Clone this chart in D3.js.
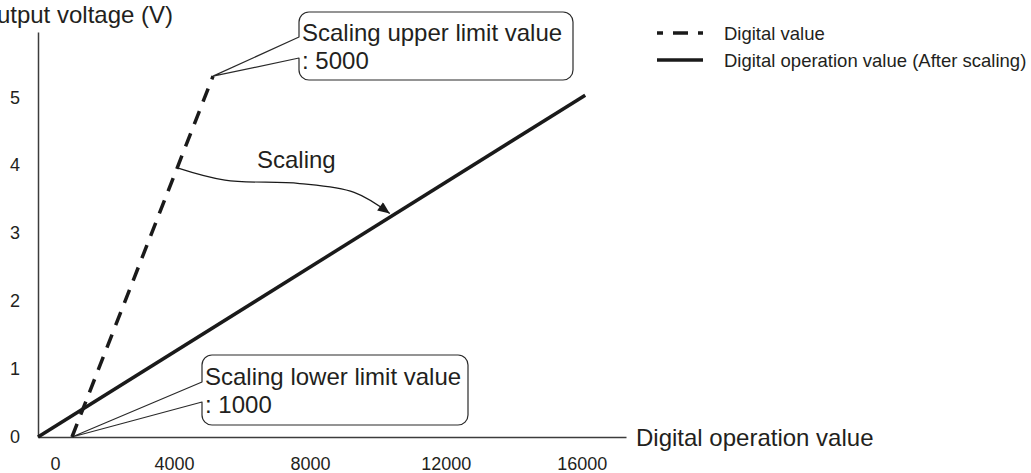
<!DOCTYPE html>
<html>
<head>
<meta charset="utf-8">
<script src="https://cdn.jsdelivr.net/npm/d3@7"></script>
<style>
  body { margin: 0; background: #fff; }
  svg { display: block; font-family: Arial, "Liberation Sans", Helvetica, sans-serif; }
</style>
</head>
<body>
<svg id="canvas"></svg>
<script>
// values: digital value -> output voltage (V)
let xTicks = [0, 4000, 8000, 12000, 16000];
let yTicks = [0, 1, 2, 3, 4, 5];
let digitalValue = [[1000, 0], [5150, 5.31]];
let operationValue = [[0, 0], [16100, 5.03]];
let scalingArrow = [[4100, 3.96], [5500, 3.78], [7700, 3.73], [9300, 3.6], [10350, 3.29]];
let legendNames = ["Digital value", "Digital operation value (After scaling)"];
let upperLabel = ["Scaling upper limit value", ": 5000"];
let lowerLabel = ["Scaling lower limit value", ": 1000"];

let width = 1031;
let height = 473;
let plotLeft = 38;
let plotRight = 626;
let plotTop = 32;
let plotBottom = 437;
let ink = "#1a1a1a";
let axisInk = "#3c3c3c";

let canvas = d3.select("#canvas").attr("width", width).attr("height", height);

let xScale = d3.scaleLinear().domain([0, 17300]).range([plotLeft, plotRight]);
let yScale = d3.scaleLinear().domain([0, 5.96]).range([plotBottom, plotTop]);
let line = d3.line().x((d) => xScale(d[0])).y((d) => yScale(d[1]));

let defs = canvas.append("defs");
defs.append("marker")
  .attr("id", "arrow")
  .attr("viewBox", "0 0 12 10")
  .attr("refX", 12)
  .attr("refY", 5)
  .attr("markerWidth", 13)
  .attr("markerHeight", 10)
  .attr("markerUnits", "userSpaceOnUse")
  .attr("orient", "auto")
  .append("path")
  .attr("d", "M0,0L12,5L0,10z")
  .attr("fill", ink);

let drawAxes = () => {
  let xAxis = d3.axisBottom(xScale)
    .tickValues(xTicks)
    .tickFormat(d3.format("d"))
    .tickSize(0)
    .tickSizeOuter(0)
    .tickPadding(20);
  let yAxis = d3.axisLeft(yScale)
    .tickValues(yTicks)
    .tickFormat(d3.format("d"))
    .tickSize(0)
    .tickSizeOuter(0)
    .tickPadding(18);

  let gx = canvas.append("g")
    .attr("transform", "translate(0, " + plotBottom + ")")
    .call(xAxis)
    .attr("font-family", null)
    .attr("font-size", 18);
  gx.select(".domain").attr("stroke", axisInk).attr("stroke-width", 1.5);
  gx.selectAll("text").attr("fill", "#231f20");
  gx.selectAll(".tick").filter((d) => d === 0).select("text").attr("dx", 17);

  let gy = canvas.append("g")
    .attr("transform", "translate(" + plotLeft + ", 0)")
    .call(yAxis)
    .attr("font-family", null)
    .attr("font-size", 18);
  gy.select(".domain").attr("stroke", axisInk).attr("stroke-width", 1.5);
  gy.selectAll("text").attr("fill", "#231f20");

  canvas.append("text")
    .attr("x", 173)
    .attr("y", 23)
    .attr("text-anchor", "end")
    .attr("font-size", 24)
    .attr("fill", "#231f20")
    .text("Output voltage (V)");

  canvas.append("text")
    .attr("x", plotRight + 10)
    .attr("y", plotBottom)
    .attr("dy", "0.36em")
    .attr("font-size", 24)
    .attr("fill", "#231f20")
    .text("Digital operation value");
};

// speech-bubble box with a wedge pointing at tip
let drawCallout = (x0, y0, x1, y1, g1, g2, tip, texts, base) => {
  let r = 10;
  let p = d3.path();
  p.moveTo(x0, g1);
  p.lineTo(tip[0], tip[1]);
  p.lineTo(x0, g2);
  p.lineTo(x0, y1 - r);
  p.arcTo(x0, y1, x0 + r, y1, r);
  p.lineTo(x1 - r, y1);
  p.arcTo(x1, y1, x1, y1 - r, r);
  p.lineTo(x1, y0 + r);
  p.arcTo(x1, y0, x1 - r, y0, r);
  p.lineTo(x0 + r, y0);
  p.arcTo(x0, y0, x0, y0 + r, r);
  p.closePath();

  canvas.append("path")
    .attr("d", p.toString())
    .attr("fill", "#fff")
    .attr("stroke", "#2a2a2a")
    .attr("stroke-width", 1.2)
    .attr("stroke-linejoin", "round");

  texts.forEach((t, i) => {
    canvas.append("text")
      .attr("x", x0 + 3)
      .attr("y", base + i * 28)
      .attr("font-size", 24)
      .attr("fill", "#231f20")
      .text(t);
  });
};

let drawLines = () => {
  canvas.append("path")
    .attr("d", line(operationValue))
    .attr("fill", "none")
    .attr("stroke", ink)
    .attr("stroke-width", 3.5);

  canvas.append("path")
    .attr("d", line(digitalValue))
    .attr("fill", "none")
    .attr("stroke", ink)
    .attr("stroke-width", 3.5)
    .attr("stroke-dasharray", "14,10");
};

let drawScaling = () => {
  let curve = d3.line()
    .x((d) => xScale(d[0]))
    .y((d) => yScale(d[1]))
    .curve(d3.curveCatmullRom);

  canvas.append("path")
    .attr("d", curve(scalingArrow))
    .attr("fill", "none")
    .attr("stroke", ink)
    .attr("stroke-width", 1.2)
    .attr("marker-end", "url(#arrow)");

  canvas.append("text")
    .attr("x", 257)
    .attr("y", 168)
    .attr("font-size", 24)
    .attr("fill", "#231f20")
    .text("Scaling");
};

let drawLegend = () => {
  let rows = [33, 60];
  legendNames.forEach((name, i) => {
    canvas.append("line")
      .attr("x1", 657)
      .attr("x2", 703)
      .attr("y1", rows[i])
      .attr("y2", rows[i])
      .attr("stroke", ink)
      .attr("stroke-width", 3.5)
      .attr("stroke-dasharray", i === 0 ? "15,10" : null)
      .attr("stroke-dashoffset", i === 0 ? 9 : null);
    canvas.append("text")
      .attr("x", 724)
      .attr("y", rows[i])
      .attr("dy", "0.36em")
      .attr("font-size", 18.5)
      .attr("fill", "#231f20")
      .text(name);
  });
};

let upperTip = [xScale(digitalValue[1][0]), yScale(digitalValue[1][1])];
let lowerTip = [xScale(digitalValue[0][0]), yScale(digitalValue[0][1])];

drawAxes();
drawCallout(299, 12, 573, 80, 37, 58, upperTip, upperLabel, 41);
drawCallout(202, 355, 468, 425, 382, 402, lowerTip, lowerLabel, 385);
drawLines();
drawScaling();
drawLegend();
</script>
</body>
</html>
